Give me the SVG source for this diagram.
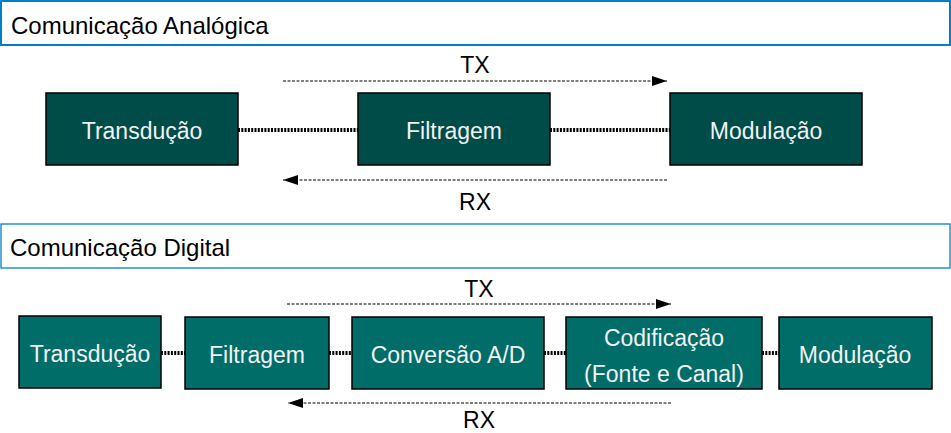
<svg xmlns="http://www.w3.org/2000/svg" width="951" height="433" viewBox="0 0 951 433">
<style>
text{font-family:"Liberation Sans",Arial,sans-serif;font-size:23px}
.hdr{fill:#fff;stroke:#0080CC}
.ht{fill:#000;font-size:24px}
.n1{fill:#004C49;stroke:#000;stroke-width:1.5}
.n2{fill:#006D69;stroke:#000;stroke-width:1.5}
.nt{fill:#F2F2F2;text-anchor:middle}
.lab{fill:#000;text-anchor:middle}
.dot{stroke:#000;stroke-width:4;stroke-dasharray:2 1.3;fill:none}
.dash{stroke:#000;stroke-width:1;stroke-dasharray:3 1.5;fill:none}
</style>
<defs>
<marker id="ah" markerWidth="16" markerHeight="10" refX="15" refY="5" orient="auto" markerUnits="userSpaceOnUse">
<path d="M0,0 L15,5 L0,10 z" fill="#000"/>
</marker>
</defs>
<g id="hdr-analog">
<rect class="hdr" x="1" y="1" width="949" height="44" stroke-width="2"/>
<text class="ht" x="11" y="34">Comunicação Analógica</text>
</g>
<g id="hdr-digital">
<rect class="hdr" x="1" y="224" width="949" height="44" stroke-width="1.3"/>
<text class="ht" x="10" y="256">Comunicação Digital</text>
</g>
<g id="connectors">
<line class="dot" x1="238" y1="130" x2="358" y2="130"/>
<line class="dot" x1="550" y1="130" x2="670" y2="130"/>
<line class="dash" x1="283" y1="81" x2="667" y2="81" marker-end="url(#ah)"/>
<line class="dash" x1="667" y1="180" x2="283" y2="180" marker-end="url(#ah)"/>
<line class="dot" x1="161" y1="353" x2="185" y2="353"/>
<line class="dot" x1="329" y1="353" x2="352" y2="353"/>
<line class="dot" x1="544" y1="353" x2="566" y2="353"/>
<line class="dot" x1="762" y1="353" x2="779" y2="353"/>
<line class="dash" x1="287" y1="304" x2="671" y2="304" marker-end="url(#ah)"/>
<line class="dash" x1="671" y1="403" x2="288" y2="403" marker-end="url(#ah)"/>
</g>
<g id="labels">
<text class="lab" x="475" y="73">TX</text>
<text class="lab" x="475" y="210">RX</text>
<text class="lab" x="479" y="297">TX</text>
<text class="lab" x="479" y="428">RX</text>
</g>
<g id="a-transducao">
<rect class="n1" x="46" y="93" width="192" height="72"/>
<text class="nt" x="142" y="139">Transdução</text>
</g>
<g id="a-filtragem">
<rect class="n1" x="358" y="93" width="192" height="72"/>
<text class="nt" x="454" y="139">Filtragem</text>
</g>
<g id="a-modulacao">
<rect class="n1" x="670" y="93" width="192" height="72"/>
<text class="nt" x="766" y="139">Modulação</text>
</g>
<g id="d-transducao">
<rect class="n2" x="19" y="316" width="142" height="72"/>
<text class="nt" x="90" y="362">Transdução</text>
</g>
<g id="d-filtragem">
<rect class="n2" x="185" y="317" width="144" height="72"/>
<text class="nt" x="257" y="363">Filtragem</text>
</g>
<g id="d-conversao">
<rect class="n2" x="352" y="317" width="192" height="72"/>
<text class="nt" x="448" y="363">Conversão A/D</text>
</g>
<g id="d-codificacao">
<rect class="n2" x="566" y="317" width="196" height="72"/>
<text class="nt" x="664" y="346">Codificação</text>
<text class="nt" x="664" y="382">(Fonte e Canal)</text>
</g>
<g id="d-modulacao">
<rect class="n2" x="779" y="317" width="153" height="72"/>
<text class="nt" x="855" y="363">Modulação</text>
</g>
</svg>
